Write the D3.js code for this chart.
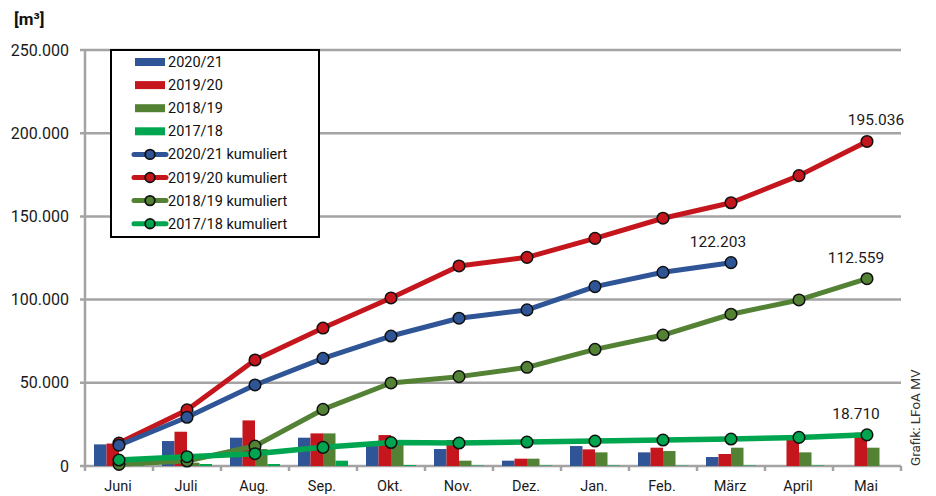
<!DOCTYPE html>
<html>
<head>
<meta charset="utf-8">
<script src="https://cdn.jsdelivr.net/npm/d3@7"></script>
<style>
  html, body { margin: 0; padding: 0; background: #fff; }
  svg { display: block; font-family: Roboto, "Noto Sans", sans-serif; }
</style>
</head>
<body>
<svg id="chart" width="936" height="496"></svg>
<script>
// Monthly volumes (m³) per season and cumulative totals
const months = ["Juni", "Juli", "Aug.", "Sep.", "Okt.", "Nov.", "Dez.", "Jan.", "Feb.", "März", "April", "Mai"];
const seasons = ["2020/21", "2019/20", "2018/19", "2017/18"];
const colors = ["#2f5597", "#c4161c", "#548235", "#00a54f"];

const monthly2021 = [13000, 15000, 17000, 17000, 12000, 10200, 3200, 12000, 8200, 5400, null, null];
const monthly1920 = [13500, 20600, 27400, 19600, 18600, 15600, 4400, 10000, 11000, 7200, 16000, 20000];
const monthly1819 = [1000, 2000, 10200, 19600, 15000, 3200, 4400, 8200, 9000, 11000, 8200, 11000];
const monthly1718 = [3600, 1200, 1200, 3200, 600, 300, 300, 300, 200, 300, 300, 0];

const cumul2021 = [12500, 29300, 48700, 64700, 78100, 88800, 93800, 107800, 116400, 122203, null, null];
const cumul1920 = [13800, 33700, 63700, 82900, 101000, 120200, 125400, 136800, 148900, 158200, 174500, 195036];
const cumul1819 = [1000, 3000, 12000, 34000, 49900, 53700, 59300, 70100, 78700, 91200, 99800, 112559];
const cumul1718 = [3600, 5600, 7400, 11200, 14100, 13800, 14400, 15000, 15600, 16200, 17200, 18710];

const yTicks = [0, 50000, 100000, 150000, 200000, 250000];
const unitLabel = "[m³]";
const creditLabel = "Grafik: LFoA MV";

const monthlySeries = [monthly2021, monthly1920, monthly1819, monthly1718];
const cumulSeries = [cumul2021, cumul1920, cumul1819, cumul1718];
// horizontal nudge of each end-value label relative to its last marker
const labelShift = [-13, 9, -11, -11];

const svg = d3.select("#chart");
const fmt = v => d3.format(",")(v).replace(/,/g, ".");

const x = d3.scaleBand().domain(months).range([85, 901]).padding(0);
const xSub = d3.scaleBand().domain(seasons).range([0, x.bandwidth()]).paddingInner(0).paddingOuter(0.72);
const y = d3.scaleLinear().domain([0, 250000]).range([466, 50]);

const gridColor = "#a3a3a3";

// horizontal gridlines
svg.append("g").selectAll("line").data(yTicks).join("line")
  .attr("x1", 80).attr("x2", 901)
  .attr("y1", d => y(d)).attr("y2", d => y(d))
  .attr("stroke", gridColor).attr("stroke-width", 2.5);

// value axis line
svg.append("line")
  .attr("x1", 85).attr("x2", 85)
  .attr("y1", y(250000) - 1).attr("y2", y(0) + 5)
  .attr("stroke", gridColor).attr("stroke-width", 2.5);

// value axis labels
svg.append("g").selectAll("text").data(yTicks).join("text")
  .attr("x", 69).attr("y", d => y(d) + 5.5)
  .attr("text-anchor", "end")
  .attr("font-size", 16).attr("fill", "#1a1a1a")
  .text(d => fmt(d));

// category tick marks between months
const boundaries = months.map(m => x(m)).concat([x(months[months.length - 1]) + x.bandwidth()]);
svg.append("g").selectAll("line").data(boundaries.slice(1)).join("line")
  .attr("x1", d => d).attr("x2", d => d)
  .attr("y1", y(0)).attr("y2", y(0) + 5)
  .attr("stroke", gridColor).attr("stroke-width", 2.5);

// category labels
svg.append("g").selectAll("text").data(months).join("text")
  .attr("x", d => x(d) + x.bandwidth() / 2 - 1)
  .attr("y", 491)
  .attr("text-anchor", "middle")
  .attr("font-size", 14.5).attr("fill", "#1a1a1a")
  .text(d => d);

// monthly bars
monthlySeries.forEach((vals, si) => {
  svg.append("g").selectAll("rect")
    .data(vals.map((v, i) => ({ m: months[i], v })).filter(d => d.v != null && d.v > 0))
    .join("rect")
    .attr("x", d => x(d.m) + xSub(seasons[si]))
    .attr("width", xSub.bandwidth())
    .attr("y", d => y(d.v))
    .attr("height", d => y(0) - y(d.v))
    .attr("fill", colors[si]);
});

// cumulative lines with markers
const line = d3.line()
  .defined(d => d.v != null)
  .x(d => x(d.m) + x.bandwidth() / 2)
  .y(d => y(d.v));

const drawOrder = [1, 0, 2, 3];
drawOrder.forEach(si => {
  const pts = cumulSeries[si].map((v, i) => ({ m: months[i], v })).filter(d => d.v != null);
  const g = svg.append("g");
  g.append("path").datum(pts)
    .attr("d", line)
    .attr("fill", "none")
    .attr("stroke", colors[si])
    .attr("stroke-width", si === 3 ? 5.5 : 5)
    .attr("stroke-linecap", "round")
    .attr("stroke-linejoin", "round");
  g.selectAll("circle").data(pts).join("circle")
    .attr("cx", d => x(d.m) + x.bandwidth() / 2)
    .attr("cy", d => y(d.v))
    .attr("r", 5.8)
    .attr("fill", colors[si])
    .attr("stroke", "#111").attr("stroke-width", 1.5);
});

// end value labels
cumulSeries.forEach((vals, si) => {
  let last = vals.length - 1;
  while (vals[last] == null) last--;
  svg.append("text")
    .attr("x", x(months[last]) + x.bandwidth() / 2 + labelShift[si])
    .attr("y", y(vals[last]) - 16)
    .attr("text-anchor", "middle")
    .attr("font-size", 15.5).attr("fill", "#1a1a1a")
    .text(fmt(vals[last]));
});

// legend
const legend = svg.append("g");
legend.append("rect")
  .attr("x", 111).attr("y", 50).attr("width", 208).attr("height", 187)
  .attr("fill", "#fff").attr("stroke", "#000").attr("stroke-width", 2);

const rowY = i => 62 + i * 23.1;
seasons.forEach((s, i) => {
  legend.append("rect")
    .attr("x", 135).attr("y", rowY(i) - 4).attr("width", 30).attr("height", 8)
    .attr("fill", colors[i]);
  legend.append("text")
    .attr("x", 168).attr("y", rowY(i) + 5)
    .attr("font-size", 14.5).attr("fill", "#111")
    .text(s);
});
seasons.forEach((s, j) => {
  const i = j + 4;
  legend.append("line")
    .attr("x1", 134).attr("x2", 166)
    .attr("y1", rowY(i)).attr("y2", rowY(i))
    .attr("stroke", colors[j]).attr("stroke-width", 5)
    .attr("stroke-linecap", "round");
  legend.append("circle")
    .attr("cx", 150).attr("cy", rowY(i)).attr("r", 4.8)
    .attr("fill", colors[j]).attr("stroke", "#111").attr("stroke-width", 1.8);
  legend.append("text")
    .attr("x", 168).attr("y", rowY(i) + 5)
    .attr("font-size", 14.5).attr("fill", "#111")
    .text(s + " kumuliert");
});

// unit label
svg.append("text")
  .attr("x", 14).attr("y", 25)
  .attr("font-size", 17).attr("font-weight", "bold").attr("fill", "#111")
  .text(unitLabel);

// source credit, rotated
svg.append("text")
  .attr("transform", "translate(920,466) rotate(-90)")
  .attr("font-size", 13.5).attr("fill", "#333")
  .text(creditLabel);
</script>
</body>
</html>
